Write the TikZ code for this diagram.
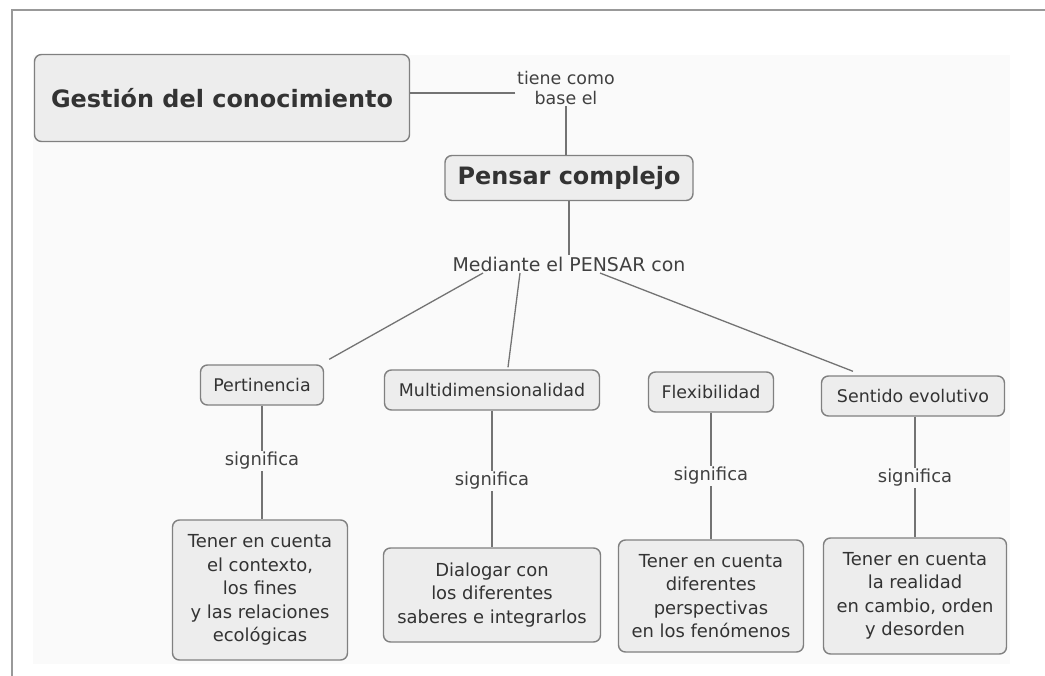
\documentclass[tikz,border=0pt]{standalone}
\usepackage{fontspec}
\setmainfont{DejaVu Sans}

\tikzset{
  concepto/.style={draw=black!50, fill=black!7, rounded corners=7bp, line width=1.4bp,
    text=black!80, align=center, inner sep=0pt},
  enlace/.style={text=black!75, align=center, inner sep=1.5bp,
    font=\fontsize{18}{21}\selectfont},
  linea/.style={draw=black!55, line width=1.3bp}
}

\begin{document}
\begin{tikzpicture}[x=1bp, y=-1bp]
\def\grande{\fontsize{24}{28}\selectfont\bfseries}
\def\medio{\fontsize{17.5}{21}\selectfont}
\def\chico{\fontsize{18}{23.5}\selectfont}

\useasboundingbox (0,0) rectangle (1045,676);

% frame and light page
\fill[black!2] (33,55) rectangle (1010,664);
\draw[black!40, line width=2bp] (1045,10) -- (12,10) -- (12,676);

% top concepts
\node[concepto, minimum width=375bp, minimum height=87bp, font=\grande] (gestion) at (222,98) {Gestión del conocimiento};
\node[enlace, font=\fontsize{17.5}{20}\selectfont] (tiene) at (566,88) {tiene como\\base el};
\node[concepto, minimum width=248bp, minimum height=45bp, font=\grande] (pensar) at (569,178) {Pensar complejo};
\node[enlace, font=\fontsize{19}{22}\selectfont] (mediante) at (569,264) {Mediante el PENSAR con};

\draw[linea] ([yshift=-5bp]tiene.west) -- ([yshift=-5bp]tiene.west -| gestion.east);
\draw[linea] (tiene.south) -- (tiene.south |- pensar.north);
\draw[linea] (pensar.south) -- (mediante.north);

% second row
\node[concepto, minimum width=123bp, minimum height=40bp, font=\medio] (pert) at (262,385) {Pertinencia};
\node[concepto, minimum width=215bp, minimum height=40bp, font=\medio] (multi) at (492,390) {Multidimensionalidad};
\node[concepto, minimum width=125bp, minimum height=40bp, font=\medio] (flex) at (711,392) {Flexibilidad};
\node[concepto, minimum width=183bp, minimum height=40bp, font=\medio] (sentido) at (913,396) {Sentido evolutivo};

\draw[linea] ([xshift=-86bp]mediante.south) -- ([xshift=5bp,yshift=5bp]pert.north east);
\draw[linea] ([xshift=-49bp]mediante.south) -- ([xshift=16bp,yshift=2bp]multi.north);
\draw[linea] ([xshift=31bp]mediante.south) -- ([xshift=-60bp,yshift=4bp]sentido.north);

% significa labels
\node[enlace] (sigA) at (262,461) {significa};
\node[enlace] (sigB) at (492,481) {significa};
\node[enlace] (sigC) at (711,476) {significa};
\node[enlace] (sigD) at (915,478) {significa};

% bottom concepts
\node[concepto, minimum width=175bp, minimum height=140bp, font=\chico] (resA) at (260,590)
  {Tener en cuenta\\el contexto,\\los fines\\y las relaciones\\ecológicas};
\node[concepto, minimum width=217bp, minimum height=94bp, font=\chico] (resB) at (492,595)
  {Dialogar con\\los diferentes\\saberes e integrarlos};
\node[concepto, minimum width=185bp, minimum height=112bp, font=\chico] (resC) at (711,596)
  {Tener en cuenta\\diferentes\\perspectivas\\en los fenómenos};
\node[concepto, minimum width=183bp, minimum height=116bp, font=\chico] (resD) at (915,596)
  {Tener en cuenta\\la realidad\\en cambio, orden\\y desorden};

\draw[linea] (pert.south) -- (sigA.north);
\draw[linea] (sigA.south) -- (resA.north -| sigA.south);
\draw[linea] (multi.south) -- (sigB.north);
\draw[linea] (sigB.south) -- (resB.north);
\draw[linea] (flex.south) -- (sigC.north);
\draw[linea] (sigC.south) -- (resC.north);
\draw[linea] (sentido.south -| sigD.north) -- (sigD.north);
\draw[linea] (sigD.south) -- (resD.north);
\end{tikzpicture}
\end{document}
